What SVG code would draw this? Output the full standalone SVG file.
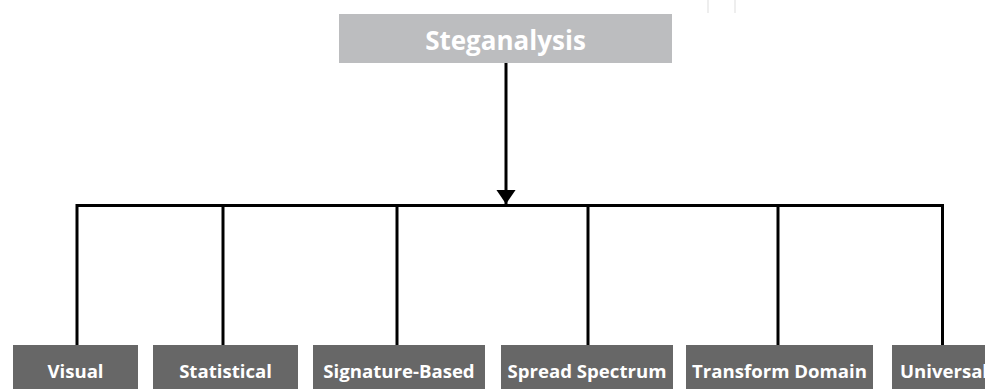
<svg xmlns="http://www.w3.org/2000/svg" width="985" height="389" viewBox="0 0 985 389">
  <style>
    .root rect { fill: #bcbdbf; }
    .leaf rect { fill: #676767; }
    text { font-family: "Open Sans", "Liberation Sans", sans-serif; font-weight: bold; fill: #ffffff; text-anchor: middle; }
    .root text { font-size: 26px; }
    .leaf text { font-size: 18.6px; }
    .wire { fill: none; stroke: #000000; stroke-width: 3; stroke-linejoin: miter; }
    .edge { fill: none; stroke: #eeeeee; stroke-width: 2; }
  </style>
  <defs>
    <marker id="arrow" markerWidth="6" markerHeight="7" refX="4.7" refY="3.2" orient="auto" markerUnits="strokeWidth">
      <path d="M0,0 L4.7,3.2 L0,6.4 Z" fill="#000000"/>
    </marker>
  </defs>

  <rect width="985" height="389" fill="#ffffff"/>
  <line class="edge" x1="708" y1="0" x2="708" y2="13"/>
  <line class="edge" x1="735" y1="0" x2="735" y2="13"/>

  <g id="connectors">
    <line class="wire" x1="506" y1="63" x2="506" y2="204" marker-end="url(#arrow)"/>
    <polyline class="wire" points="77,345 77,205.5 942.5,205.5 942.5,345"/>
    <line class="wire" x1="223" y1="205" x2="223" y2="345"/>
    <line class="wire" x1="397" y1="205" x2="397" y2="345"/>
    <line class="wire" x1="588" y1="205" x2="588" y2="345"/>
    <line class="wire" x1="778" y1="205" x2="778" y2="345"/>
  </g>

  <g id="steganalysis" class="root">
    <rect x="339" y="14" width="333" height="49"/>
    <text x="505.5" y="50">Steganalysis</text>
  </g>

  <g id="visual" class="leaf">
    <rect x="13" y="345" width="125" height="50"/>
    <text x="75.5" y="378">Visual</text>
  </g>
  <g id="statistical" class="leaf">
    <rect x="153" y="345" width="145" height="50"/>
    <text x="225.5" y="378">Statistical</text>
  </g>
  <g id="signature-based" class="leaf">
    <rect x="313" y="345" width="172" height="50"/>
    <text x="399" y="378">Signature-Based</text>
  </g>
  <g id="spread-spectrum" class="leaf">
    <rect x="501" y="345" width="172" height="50"/>
    <text x="587" y="378">Spread Spectrum</text>
  </g>
  <g id="transform-domain" class="leaf">
    <rect x="686" y="345" width="187" height="50"/>
    <text x="779.5" y="378">Transform Domain</text>
  </g>
  <g id="universal" class="leaf">
    <rect x="892" y="345" width="110" height="50"/>
    <text x="944" y="378">Universal</text>
  </g>
</svg>
